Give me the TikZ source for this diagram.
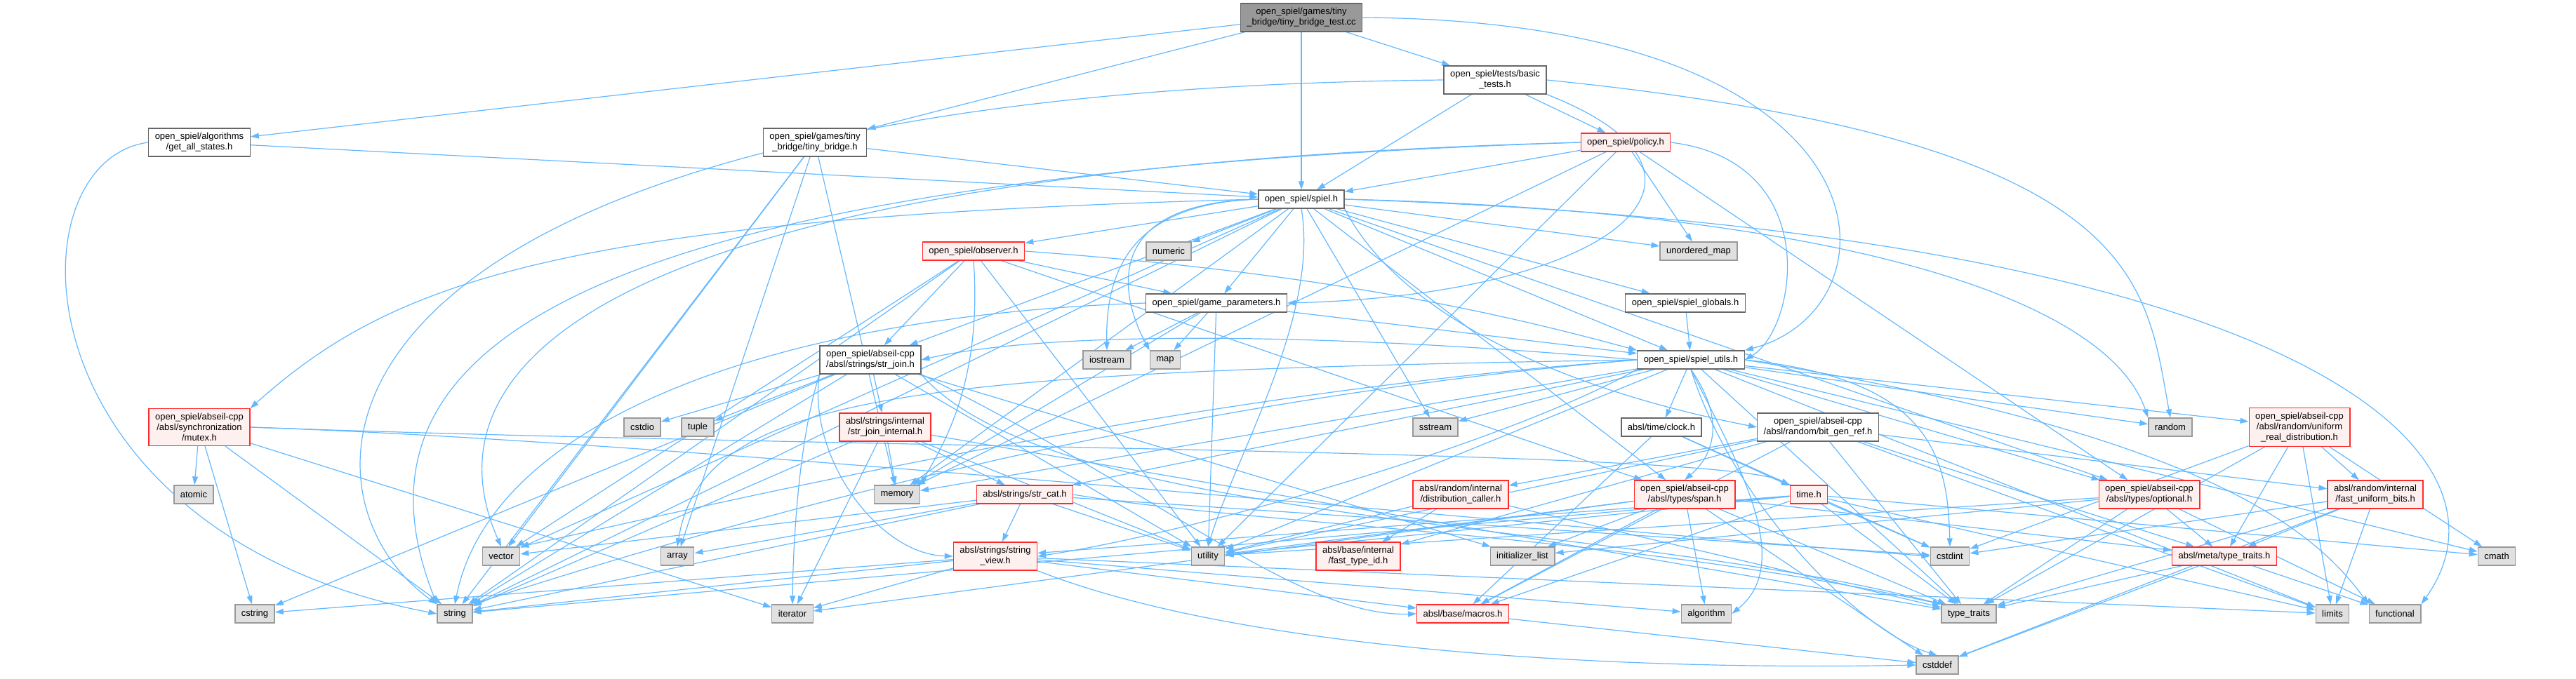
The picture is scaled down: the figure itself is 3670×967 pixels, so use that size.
\documentclass[tikz,border=0pt]{standalone}
\usepackage{fontspec}
\setmainfont{Liberation Sans}
\usetikzlibrary{arrows.meta, backgrounds}
\definecolor{dxedge}{HTML}{63B8FF}
\definecolor{dxline}{HTML}{666666}
\definecolor{dxroot}{HTML}{999999}
\definecolor{dxgray}{HTML}{E0E0E0}
\definecolor{dxgrayline}{HTML}{999999}
\definecolor{dxred}{HTML}{FFF0F0}
\definecolor{dxredline}{HTML}{FF2A2A}

\begin{document}
\begin{tikzpicture}[
  x=1pt, y=-1pt,
  hdr/.style={rectangle, line width=1.3pt, inner xsep=9pt, inner ysep=6.5pt,
              minimum height=26pt, align=center, font=\fontsize{13}{15}\selectfont},
  file/.style={hdr, draw=dxline, fill=white},
  rootfile/.style={hdr, draw=dxline, fill=dxroot},
  sysfile/.style={hdr, draw=dxgrayline, fill=dxgray},
  trunc/.style={hdr, draw=dxredline, fill=dxred},
  dep/.style={-{Triangle[length=12pt, width=8pt]}, draw=dxedge, line width=1.2pt}
]
\useasboundingbox (0,0) rectangle (3670,967);

% Test source and its project headers
\node[rootfile] (root) at (1854,25) {open\_spiel/games/tiny\\\_bridge/tiny\_bridge\_test.cc};
\node[file] (allstates) at (284,203) {open\_spiel/algorithms\\/get\_all\_states.h};
\node[file] (tinybridge) at (1161,203) {open\_spiel/games/tiny\\\_bridge/tiny\_bridge.h};
\node[file] (basictests) at (2130,114) {open\_spiel/tests/basic\\\_tests.h};
\node[trunc] (policy) at (2316,203) {open\_spiel/policy.h};
\node[file] (spiel) at (1854,284) {open\_spiel/spiel.h};
\node[trunc] (observer) at (1387,358) {open\_spiel/observer.h};
\node[sysfile] (numeric) at (1665,358) {numeric};
\node[sysfile] (umap) at (2420,358) {unordered\_map};
\node[file] (gameparams) at (1733,432) {open\_spiel/game\_parameters.h};
\node[file] (globals) at (2401,432) {open\_spiel/spiel\_globals.h};
\node[file] (strjoin) at (1240,513) {open\_spiel/abseil-cpp\\/absl/strings/str\_join.h};
\node[sysfile] (iostream) at (1577,513) {iostream};
\node[sysfile] (map) at (1660,513) {map};
\node[file] (utils) at (2409,513) {open\_spiel/spiel\_utils.h};

% Abseil headers
\node[trunc] (mutex) at (284,609) {open\_spiel/abseil-cpp\\/absl/synchronization\\/mutex.h};
\node[sysfile] (cstdio) at (915,609) {cstdio};
\node[sysfile] (tuple) at (994,609) {tuple};
\node[trunc] (joininternal) at (1261,609) {absl/strings/internal\\/str\_join\_internal.h};
\node[sysfile] (sstream) at (2045,609) {sstream};
\node[file] (clock) at (2367,609) {absl/time/clock.h};
\node[file] (bitgenref) at (2590,609) {open\_spiel/abseil-cpp\\/absl/random/bit\_gen\_ref.h};
\node[sysfile] (random) at (3092,609) {random};
\node[trunc] (uniformreal) at (3276,609) {open\_spiel/abseil-cpp\\/absl/random/uniform\\\_real\_distribution.h};
\node[sysfile] (atomic) at (276,705) {atomic};
\node[sysfile] (memory) at (1278,705) {memory};
\node[trunc] (strcat) at (1460,705) {absl/strings/str\_cat.h};
\node[trunc] (distcaller) at (2081,705) {absl/random/internal\\/distribution\_caller.h};
\node[trunc] (span) at (2400,705) {open\_spiel/abseil-cpp\\/absl/types/span.h};
\node[trunc] (timeh) at (2577,705) {time.h};
\node[trunc] (optional) at (3062,705) {open\_spiel/abseil-cpp\\/absl/types/optional.h};
\node[trunc] (fastbits) at (3384,705) {absl/random/internal\\/fast\_uniform\_bits.h};
\node[sysfile] (vector) at (714,793) {vector};
\node[sysfile] (array) at (965,793) {array};
\node[trunc] (stringview) at (1418,793) {absl/strings/string\\\_view.h};
\node[sysfile] (utility) at (1721,793) {utility};
\node[trunc] (fasttypeid) at (1935,793) {absl/base/internal\\/fast\_type\_id.h};
\node[sysfile] (initlist) at (2169,793) {initializer\_list};
\node[sysfile] (cstdint) at (2778,793) {cstdint};
\node[trunc] (metatraits) at (3169,793) {absl/meta/type\_traits.h};
\node[sysfile] (cmath) at (3557,793) {cmath};

% Standard library headers on the bottom rows
\node[sysfile] (cstring) at (363,875) {cstring};
\node[sysfile] (string) at (648,875) {string};
\node[sysfile] (iterator) at (1129,875) {iterator};
\node[trunc] (macros) at (2084,875) {absl/base/macros.h};
\node[sysfile] (algorithm) at (2431,875) {algorithm};
\node[sysfile] (typetraits) at (2805,875) {type\_traits};
\node[sysfile] (limits) at (3323,875) {limits};
\node[sysfile] (functional) at (3412,875) {functional};
\node[sysfile] (cstddef) at (2760,948) {cstddef};

\begin{scope}[on background layer]
% Routed include edges (kept clear of other boxes)
\draw[dep] (root.east) .. controls (2714,30) and (2714,440) .. (utils.north east);
\draw[dep] (allstates.west) .. controls (10,230) and (20,760) .. (string.west);
\draw[dep] (basictests.west) .. controls (396,130) and (396,700) .. (string.north west);
\draw[dep] (basictests.east) .. controls (3056,200) and (3056,400) .. (random.north);
\draw[dep] (basictests.south east) .. controls (2500,250) and (2300,420) .. (gameparams.east);
\draw[dep] (policy.east) .. controls (2600,230) and (2560,470) .. (utils.east);
\draw[dep] (policy.west) .. controls (800,250) and (480,500) .. (string.north west);
\draw[dep] (policy.west) .. controls (850,240) and (600,520) .. (vector.north);
\draw[dep] (spiel.west) .. controls (800,310) and (560,400) .. (mutex.north east);
\draw[dep] (spiel.east) .. controls (3300,330) and (3600,650) .. (functional.north east);
\draw[dep] (spiel.west) .. controls (1600,290) and (1575,400) .. (iostream.north);
\draw[dep] (spiel.west) .. controls (1560,290) and (1600,430) .. (map.north west);
\draw[dep] (spiel.south) .. controls (1880,450) and (1760,650) .. (utility.north);
\draw[dep] (spiel.east) .. controls (2600,300) and (3000,420) .. (random.north west);
\draw[dep] (spiel.south east) .. controls (2000,460) and (2250,560) .. (bitgenref.west);
\draw[dep] (observer.east) .. controls (1900,390) and (2150,450) .. (utils.north west);
\draw[dep] (observer.south) .. controls (1400,550) and (1340,640) .. (memory.north east);
\draw[dep] (gameparams.west) .. controls (1100,450) and (700,600) .. (string.north);
\draw[dep] (strjoin.south west) .. controls (1150,650) and (1250,790) .. (stringview.west);
\draw[dep] (strjoin.south west) .. controls (1140,620) and (1130,760) .. (iterator.north);
\draw[dep] (strjoin.south east) .. controls (1650,700) and (1850,880) .. (macros.west);
\draw[dep] (strjoin.south east) .. controls (1500,750) and (2300,740) .. (typetraits.north west);
\draw[dep] (strcat.east) .. controls (1800,750) and (2300,760) .. (typetraits.north west);
\draw[dep] (stringview.south east) .. controls (1800,940) and (2400,955) .. (cstddef.west);
\draw[dep] (mutex.east) .. controls (1000,630) and (2300,760) .. (cstdint.west);
\draw[dep] (mutex.east) .. controls (1200,640) and (2450,640) .. (timeh.north west);
\draw[dep] (utils.west) .. controls (1900,475) and (1500,470) .. (strjoin.east);
\draw[dep] (utils.west) .. controls (1300,530) and (1000,560) .. (array.north);
\draw[dep] (utils.west) .. controls (1700,560) and (1100,700) .. (vector.north east);
\draw[dep] (utils.west) .. controls (1650,570) and (1050,740) .. (string.north east);
\draw[dep] (utils.south west) .. controls (2150,630) and (1700,760) .. (stringview.east);
\draw[dep] (utils.south) .. controls (2470,720) and (2650,900) .. (cstddef.north);
\draw[dep] (utils.east) .. controls (2750,540) and (2775,650) .. (cstdint.north);
\draw[dep] (utils.east) .. controls (3150,620) and (3300,760) .. (functional.north west);
\draw[dep] (utils.south) .. controls (2470,650) and (2560,800) .. (algorithm.east);
\draw[dep] (utils.south) .. controls (2460,600) and (2440,650) .. (span.north);

% Direct include edges
\foreach \dst in {allstates,tinybridge,spiel,basictests} \draw[dep] (root) -- (\dst);
\draw[dep] (allstates) -- (spiel);
\foreach \dst in {array,memory,string,vector,spiel} \draw[dep] (tinybridge) -- (\dst);
\foreach \dst in {policy,spiel} \draw[dep] (basictests) -- (\dst);
\foreach \dst in {memory,umap,utility,optional,spiel} \draw[dep] (policy) -- (\dst);
\foreach \dst in {strjoin,observer,numeric,umap,gameparams,globals,utils,memory,sstream,string,vector,optional,span}
  \draw[dep] (spiel) -- (\dst);
\foreach \dst in {string,vector,strjoin,utility,gameparams,span} \draw[dep] (observer) -- (\dst);
\foreach \dst in {iostream,map,memory,utility,utils} \draw[dep] (gameparams) -- (\dst);
\draw[dep] (globals) -- (utils);
\foreach \dst in {cstdio,cstring,initlist,string,tuple,utility,joininternal} \draw[dep] (strjoin) -- (\dst);
\foreach \dst in {iterator,memory,string,typetraits,utility,strcat} \draw[dep] (joininternal) -- (\dst);
\foreach \dst in {array,cstdint,string,utility,vector,stringview} \draw[dep] (strcat) -- (\dst);
\foreach \dst in {algorithm,cstring,iterator,limits,string,macros} \draw[dep] (stringview) -- (\dst);
\draw[dep] (macros) -- (cstddef);
\foreach \dst in {atomic,cstring,iterator,string} \draw[dep] (mutex) -- (\dst);
\foreach \dst in {cmath,limits,memory,random,sstream,typetraits,utility,uniformreal,strcat,clock,optional}
  \draw[dep] (utils) -- (\dst);
\foreach \dst in {cstdint,macros,timeh} \draw[dep] (clock) -- (\dst);
\foreach \dst in {limits,typetraits,utility,fasttypeid,macros,metatraits,distcaller,fastbits} \draw[dep] (bitgenref) -- (\dst);
\foreach \dst in {utility,fasttypeid,typetraits} \draw[dep] (distcaller) -- (\dst);
\foreach \dst in {algorithm,cstddef,initlist,iterator,typetraits,utility,macros,metatraits} \draw[dep] (span) -- (\dst);
\foreach \dst in {cmath,cstdint,limits,string,typetraits,utility,macros,stringview} \draw[dep] (timeh) -- (\dst);
\foreach \dst in {functional,initlist,typetraits,utility,metatraits} \draw[dep] (optional) -- (\dst);
\foreach \dst in {cstddef,cstdint,limits,typetraits,metatraits} \draw[dep] (fastbits) -- (\dst);
\foreach \dst in {cstddef,functional,typetraits} \draw[dep] (metatraits) -- (\dst);
\foreach \dst in {cmath,cstdint,limits,typetraits,metatraits,fastbits} \draw[dep] (uniformreal) -- (\dst);
\end{scope}

\end{tikzpicture}
\end{document}
